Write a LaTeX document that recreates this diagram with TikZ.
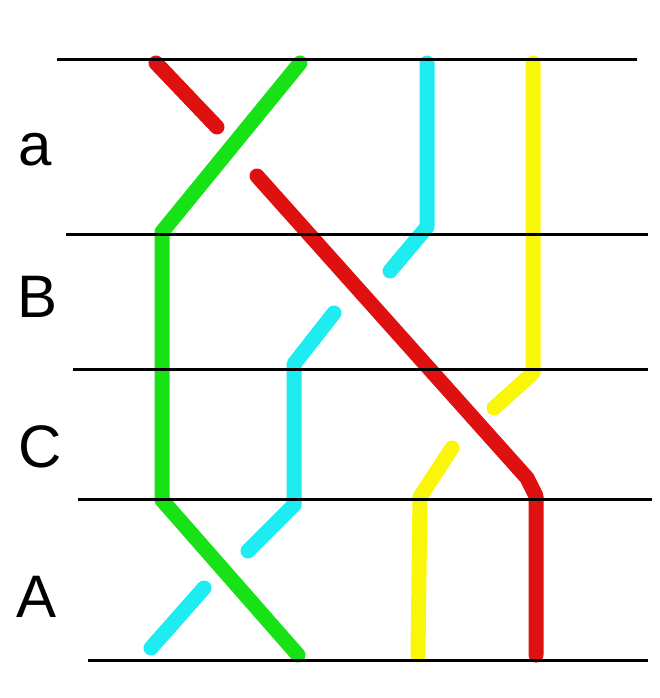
\documentclass[tikz,border=0pt]{standalone}
\usepackage{fontspec}
\setmainfont{Liberation Sans}
\begin{document}
\begin{tikzpicture}[x=1pt,y=-1pt,
  strand/.style={line width=15pt,line cap=round,line join=round},
  rule/.style={line width=3pt,black},
  lbl/.style={font=\fontsize{60}{60}\selectfont,inner sep=0pt}]
\definecolor{sgreen}{RGB}{22,226,22}
\definecolor{sred}{RGB}{222,16,16}
\definecolor{scyan}{RGB}{30,236,240}
\definecolor{syellow}{RGB}{250,246,10}
\useasboundingbox[fill=white] (0,0) rectangle (659,698);
% green
\draw[strand,sgreen] (300,63) -- (162,232) -- (162,500) -- (298,655);
% red
\draw[strand,sred] (156,63) -- (217,127);
\draw[strand,sred] (257,176) -- (527,478) -- (536,496) -- (536,655);
% cyan
\draw[strand,scyan] (427,63) -- (427,227) -- (390,271);
\draw[strand,scyan] (334,313) -- (294,364) -- (294,505) -- (248,551);
\draw[strand,scyan] (204,588) -- (151,648);
% yellow
\draw[strand,syellow] (533,63) -- (533,373) -- (494,408);
\draw[strand,syellow] (452,448) -- (420,497) -- (418,655);
% rules
\draw[rule] (57,60) -- (637,60);
\draw[rule] (66,234) -- (648,234);
\draw[rule] (73,369) -- (648,369);
\draw[rule] (78,499) -- (652,499);
\draw[rule] (88,660) -- (648,660);
% labels
\node[lbl] (la) at (35,150) {a};
\node[lbl] (lB) at (38,297) {B};
\node[lbl] (lC) at (40,447) {C};
\node[lbl] (lA) at (37,597) {A};
\end{tikzpicture}
\end{document}
